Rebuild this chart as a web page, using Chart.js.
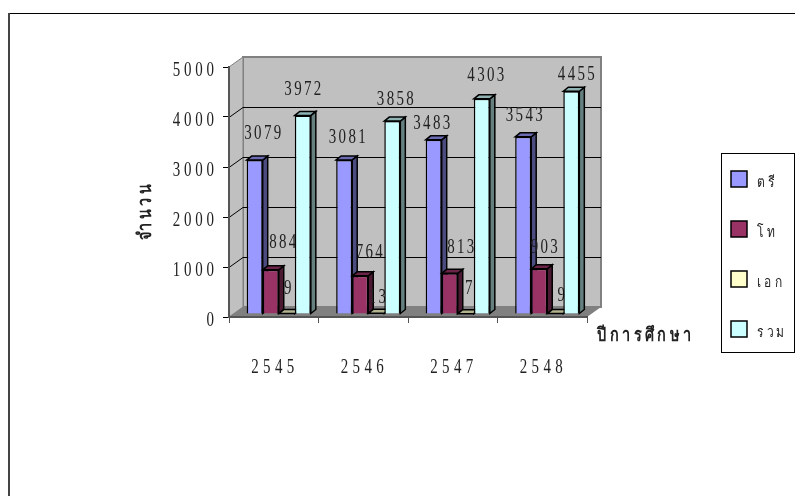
<!DOCTYPE html>
<html lang="th">
<head>
    <meta charset="UTF-8">
    <title>Students by academic year</title>
    <script src="https://cdn.jsdelivr.net/npm/chart.js"></script>
    <style>
        html, body { margin: 0; padding: 0; background: #fff; }
        canvas { display: block; }
    </style>
</head>
<body>
    <canvas id="dataChart" width="795" height="496"></canvas>

    <script>
        const years = ['2545', '2546', '2547', '2548'];
        const bachelor = [3079, 3081, 3483, 3543];
        const master = [884, 764, 813, 903];
        const doctorate = [9, 13, 7, 9];
        const total = [3972, 3858, 4303, 4455];
        const yTicks = [0, 1000, 2000, 3000, 4000, 5000];

        const DEPTH = 5;       // side/top face of a bar
        const SHIFT_X = 5, SHIFT_Y = -3;  // bars stand a bit inside the floor
        const WALL_X = 14, WALL_Y = -10;  // back wall offset from the axes
        const SERIF = '"Liberation Serif", serif';
        const THAI = '"Noto Sans", "DejaVu Sans", sans-serif';

        // value labels were dragged by hand in the original: [dx, dy] per series per year
        const labelNudge = [
            [[4, -2], [-1, 2], [-6, 8], [-3, 3]],
            [[8, -3], [5, 1], [7, -1], [1, 3]],
            [[-3, 0], [-3, 9], [-1, 0], [2, 7]],
            [[-4, -1], [-1, 3], [0, 1], [1, 8]]
        ];

        // the original text is tall, squeezed and letter-spaced
        function label(ctx, text, x, y, opts) {
            const o = Object.assign({ size: 22, gap: 4.5, squeeze: 0.68, align: 'center', font: SERIF, rotate: 0, weight: 'normal' }, opts);
            ctx.save();
            ctx.font = o.weight + ' ' + o.size + 'px ' + o.font;
            ctx.letterSpacing = o.gap + 'px';
            ctx.fillStyle = '#222';
            ctx.textBaseline = 'middle';
            ctx.textAlign = 'left';
            ctx.translate(x, y);
            if (o.rotate) ctx.rotate(o.rotate);
            ctx.scale(o.squeeze, 1);
            const w = ctx.measureText(text).width - o.gap;
            const dx = o.align === 'center' ? -w / 2 : o.align === 'right' ? -w : 0;
            ctx.fillText(text, dx, 0);
            ctx.restore();
        }

        function poly(ctx, pts, fill, stroke, lw) {
            ctx.beginPath();
            pts.forEach((p, i) => i ? ctx.lineTo(p[0], p[1]) : ctx.moveTo(p[0], p[1]));
            ctx.closePath();
            if (fill) { ctx.fillStyle = fill; ctx.fill(); }
            if (stroke) { ctx.strokeStyle = stroke; ctx.lineWidth = lw || 1; ctx.stroke(); }
        }

        const walls = {
            id: 'walls',
            beforeDraw(chart) {
                const { ctx, chartArea: a, scales } = chart;
                const wx = a.left + WALL_X, wr = a.right + WALL_X;
                const wt = a.top + WALL_Y, wb = a.bottom + WALL_Y;
                poly(ctx, [[wx, wt], [wr, wt], [wr, wb], [wx, wb]], '#c0c0c0', '#808080', 2);
                poly(ctx, [[a.left, a.top], [wx, wt], [wx, wb], [a.left, a.bottom]], '#c0c0c0', '#808080', 1);
                poly(ctx, [[a.left, a.bottom], [wx, wb], [wr, wb], [a.right, a.bottom]], '#808080');
                ctx.strokeStyle = '#000';
                ctx.lineWidth = 1;
                yTicks.slice(1, -1).forEach(v => {
                    const y = Math.round(scales.y.getPixelForValue(v)) + 0.5;
                    ctx.beginPath();
                    ctx.moveTo(a.left, y);
                    ctx.lineTo(wx, y + WALL_Y);
                    ctx.lineTo(wr, y + WALL_Y);
                    ctx.stroke();
                });
            }
        };

        // chart.js paints dataset 0 last, here later series have to sit in front,
        // so the normal pass is skipped and the bars are painted in series order
        const bars3d = {
            id: 'bars3d',
            beforeDatasetDraw() { return false; },
            afterDatasetsDraw(chart) {
                const { ctx } = chart;
                chart.data.datasets.forEach((ds, index) => {
                    const meta = chart.getDatasetMeta(index);
                    ctx.save();
                    ctx.translate(SHIFT_X, SHIFT_Y);
                    meta.data.forEach(bar => {
                        const { x, y, base, width } = bar.getProps(['x', 'y', 'base', 'width']);
                        const r = x + width / 2, l = x - width / 2;
                        poly(ctx, [[r, y], [r + DEPTH, y - DEPTH + 1], [r + DEPTH, base - DEPTH + 1], [r, base]], ds.sideColor, '#000', 1.5);
                        poly(ctx, [[l, y], [l + DEPTH, y - DEPTH + 1], [r + DEPTH, y - DEPTH + 1], [r, y]], ds.topColor, '#000', 1.5);
                    });
                    meta.controller.draw();
                    ctx.restore();
                    meta.data.forEach((bar, i) => {
                        const p = bar.getProps(['x', 'y']);
                        const n = labelNudge[index][i];
                        label(ctx, String(ds.data[i]), p.x + SHIFT_X + 4 + n[0], p.y + SHIFT_Y - 25 + n[1], { gap: 3.5 });
                    });
                });
            }
        };

        const texts = {
            id: 'texts',
            afterDraw(chart) {
                const { ctx, scales } = chart;
                // page frame
                ctx.fillStyle = '#000';
                ctx.fillRect(8, 13, 787, 1);
                ctx.fillStyle = '#444';
                ctx.fillRect(8, 13, 2, 483);

                scales.y.ticks.forEach(t => {
                    label(ctx, String(t.value), 214, scales.y.getPixelForValue(t.value) + 3, { align: 'right', gap: 5.5 });
                });
                years.forEach((yr, i) => {
                    label(ctx, yr, scales.x.getPixelForTick(i) - 1, 367, { gap: 6.5 });
                });
                label(ctx, 'จำนวน', 146, 212, { font: THAI, size: 19, gap: 4.5, squeeze: 0.76, weight: 'bold', rotate: -Math.PI / 2 });
                label(ctx, 'ปีการศึกษา', 597, 336, { font: THAI, size: 19, gap: 4.5, squeeze: 0.76, weight: 'bold', align: 'left' });

                // legend
                ctx.strokeStyle = '#000';
                ctx.lineWidth = 1;
                ctx.strokeRect(721.5, 153.5, 73, 199);
                chart.data.datasets.forEach((ds, i) => {
                    const top = 171 + i * 50;
                    ctx.fillStyle = ds.backgroundColor;
                    ctx.fillRect(731, top, 16, 16);
                    ctx.strokeStyle = '#000';
                    ctx.lineWidth = 1.5;
                    ctx.strokeRect(731, top, 16, 16);
                    label(ctx, ds.label, 757, top + 12, { font: THAI, size: 15, gap: 4, squeeze: 0.8, align: 'left' });
                });
            }
        };

        function series(name, data, fill, side, top) {
            return {
                label: name, data, clip: false,
                backgroundColor: fill, sideColor: side, topColor: top,
                borderColor: '#000', borderWidth: 1.5,
                barPercentage: 1, categoryPercentage: 0.717
            };
        }

        new Chart(document.getElementById('dataChart').getContext('2d'), {
            type: 'bar',
            data: {
                labels: years,
                datasets: [
                    series('ตรี', bachelor, '#9999ff', '#4c4c80', '#6b6bb3'),
                    series('โท', master, '#993366', '#4c1933', '#6b2447'),
                    series('เอก', doctorate, '#ffffcc', '#808066', '#b3b38f'),
                    series('รวม', total, '#ccffff', '#668080', '#8fb3b3')
                ]
            },
            options: {
                responsive: false,
                animation: false,
                layout: { padding: { top: 67, right: 208, left: 0, bottom: 0 } },
                plugins: { legend: { display: false }, tooltip: { enabled: false } },
                scales: {
                    x: {
                        ticks: { display: false },
                        grid: { drawOnChartArea: false, drawTicks: true, tickLength: 6, color: '#555', lineWidth: 1 },
                        border: { color: '#555', width: 2 },
                        afterFit(s) { s.height = 179; }
                    },
                    y: {
                        min: 0, max: 5000,
                        ticks: { stepSize: 1000, display: false },
                        grid: { drawOnChartArea: false, drawTicks: true, tickLength: 6, color: '#000', lineWidth: 1 },
                        border: { color: '#555', width: 2 },
                        afterFit(s) { s.width = 229; }
                    }
                }
            },
            plugins: [walls, bars3d, texts]
        });
    </script>
</body>
</html>
